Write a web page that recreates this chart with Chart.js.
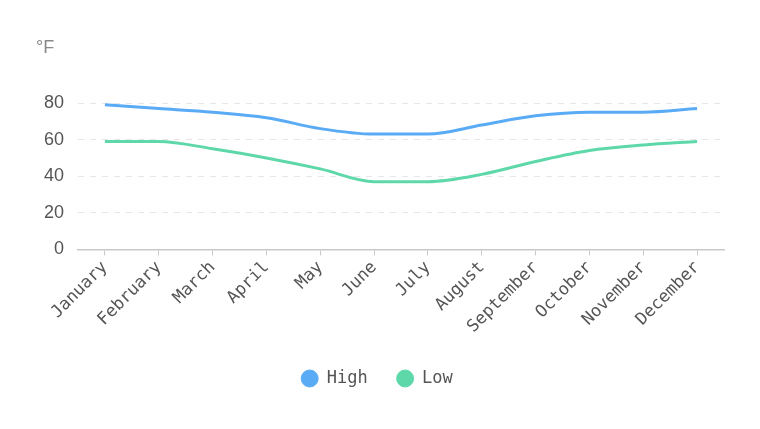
<!DOCTYPE html>
<html>
<head>
<meta charset="utf-8">
<script src="https://cdn.jsdelivr.net/npm/chart.js@4/dist/chart.umd.min.js"></script>
<style>
  html, body { margin: 0; padding: 0; background: #fff; }
  #wrap { width: 760px; height: 429px; }
</style>
</head>
<body>
<div id="wrap"><canvas id="chart"></canvas></div>
<script>
const months = ["January", "February", "March", "April", "May", "June", "July", "August", "September", "October", "November", "December"];
const highTemps = [79, 77, 75, 72, 66, 63, 63, 68, 73, 75, 75, 77];
const lowTemps = [59, 59, 55, 50, 44, 37, 37, 41, 48, 54, 57, 59];
const yTicks = [0, 20, 40, 60, 80];
const unitLabel = "°F";

const monoFont = "'DejaVu Sans Mono', 'Liberation Mono', monospace";

// draws the unit name above the y axis
const unitPlugin = {
    id: 'unitLabel',
    afterDraw(chart) {
        const ctx = chart.ctx;
        ctx.save();
        ctx.fillStyle = '#8a8a8a';
        ctx.font = "18px 'Liberation Sans', Arial, sans-serif";
        ctx.textAlign = 'left';
        ctx.textBaseline = 'middle';
        ctx.fillText(unitLabel, 36, 48);
        ctx.restore();
    }
};

new Chart(document.getElementById('chart'), {
    type: 'line',
    data: {
        labels: months,
        datasets: [
            {label: 'High', data: highTemps, borderColor: '#5aabf5', backgroundColor: '#5aabf5'},
            {label: 'Low', data: lowTemps, borderColor: '#5fd8a9', backgroundColor: '#5fd8a9'}
        ]
    },
    options: {
        responsive: true,
        maintainAspectRatio: false,
        animation: false,
        layout: {padding: {top: 103, left: 30, right: 36, bottom: 32}},
        elements: {
            line: {borderWidth: 3, cubicInterpolationMode: 'monotone'},
            point: {radius: 0}
        },
        plugins: {
            tooltip: {enabled: false},
            legend: {
                position: 'bottom',
                labels: {
                    usePointStyle: true,
                    pointStyle: 'circle',
                    boxHeight: 12,
                    padding: 29,
                    color: '#555',
                    font: {family: monoFont, size: 17}
                }
            }
        },
        scales: {
            x: {
                offset: true,
                afterFit: s => { s.height += 2; },
                grid: {display: true, drawOnChartArea: false, drawTicks: true, tickLength: 6, color: '#c8c8c8', offset: false},
                border: {display: true, color: '#c8c8c8', width: 1.5},
                ticks: {
                    maxRotation: 45,
                    minRotation: 45,
                    autoSkip: false,
                    padding: 2,
                    color: '#555',
                    font: {family: monoFont, size: 17}
                }
            },
            y: {
                min: 0,
                max: 80,
                afterBuildTicks: axis => { axis.ticks = yTicks.map(v => ({value: v})); },
                grid: {color: '#e6e6e6', drawTicks: false},
                border: {display: false, dash: [6, 6]},
                ticks: {
                    padding: 14,
                    color: '#555',
                    font: {family: "'Liberation Sans', Arial, sans-serif", size: 18}
                }
            }
        }
    },
    plugins: [unitPlugin]
});
</script>
</body>
</html>
